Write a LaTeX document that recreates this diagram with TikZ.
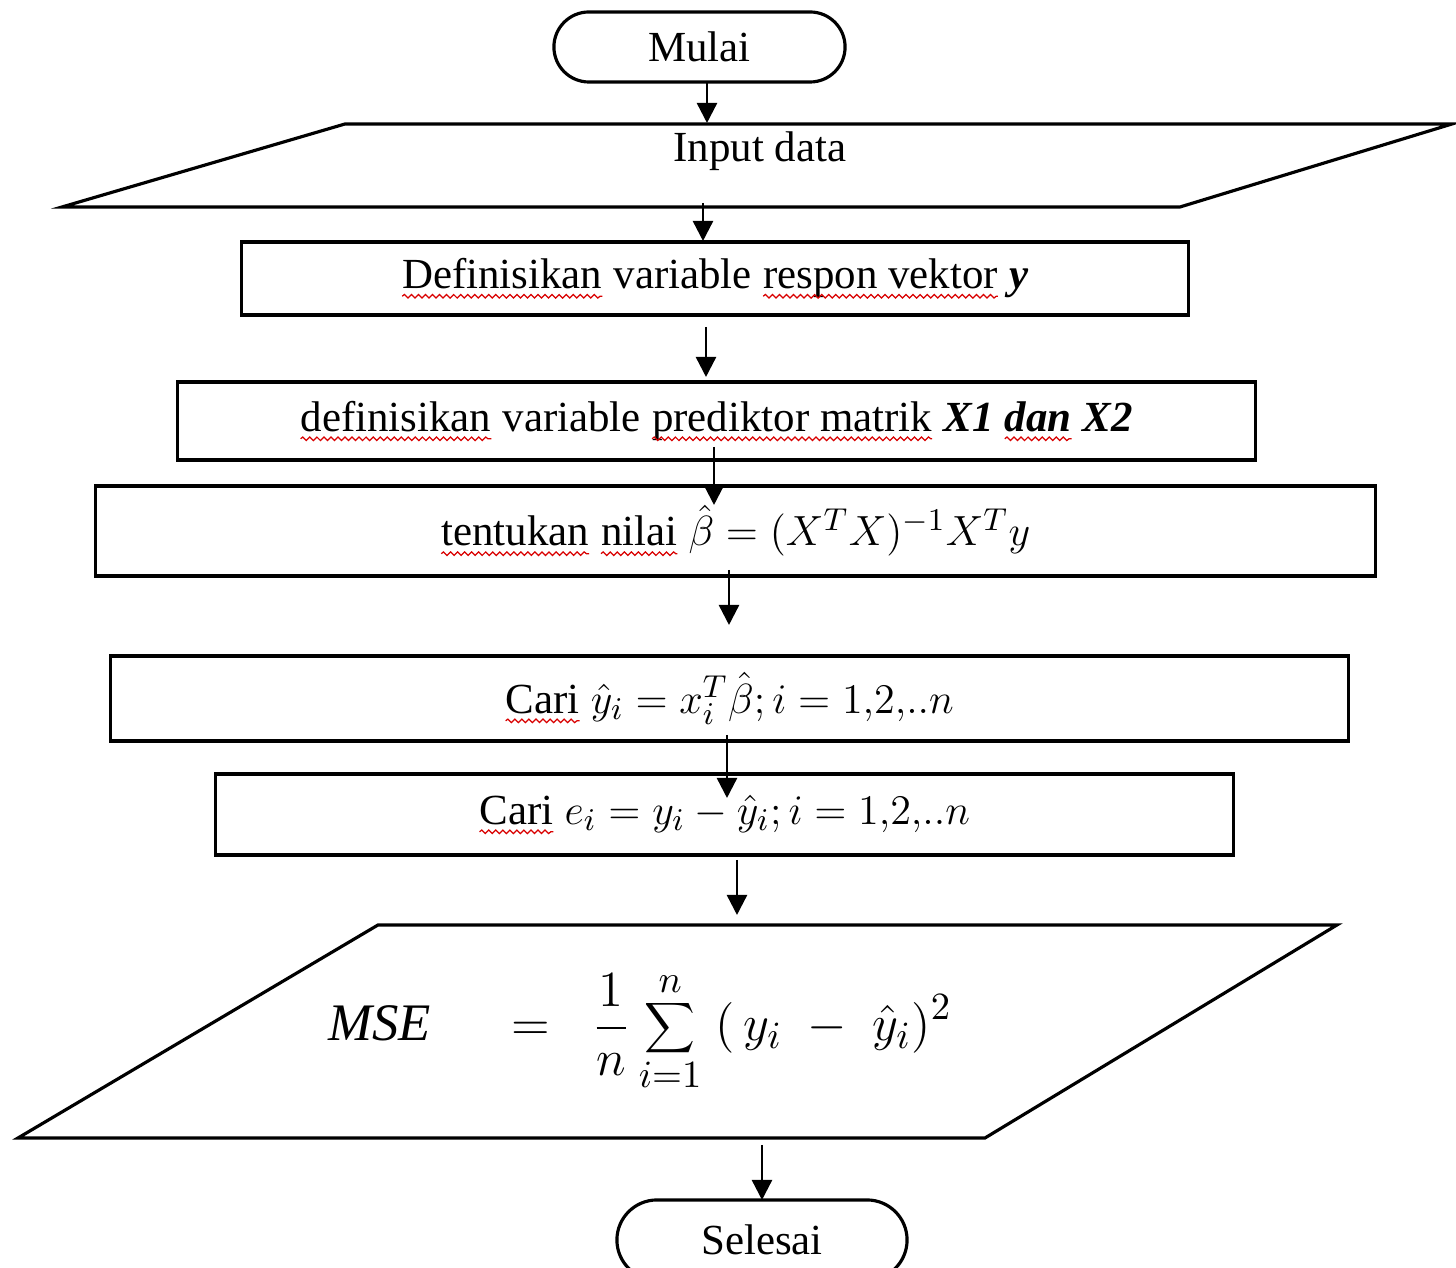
\documentclass[tikz,border=0pt]{standalone}
\usepackage{fontspec}
\setmainfont{Liberation Serif}
\usetikzlibrary{arrows.meta,shapes.misc,decorations.pathmorphing}
\newcommand\sq[1]{\tikz[x=1cm,y=1cm,baseline=(w.base)]{\node[rectangle,inner sep=0pt,outer sep=0pt,draw=none,minimum width=0pt,minimum height=0pt] (w) {#1};
  \draw[red!85!black,line width=0.35pt,decorate,decoration={snake,amplitude=0.5pt,segment length=2pt}] ([yshift=-2.2pt]w.base west) -- ([yshift=-2.2pt]w.base east);}}
\tikzset{
  shapeline/.style={draw=black,line width=0.9pt},
  procbox/.style={shapeline,rectangle,inner sep=0pt,font=\fontsize{12.2}{14}\selectfont},
  termbox/.style={shapeline,rounded rectangle,inner sep=0pt,font=\fontsize{12.2}{14}\selectfont},
  lbl/.style={inner sep=0pt,font=\fontsize{12.2}{14}\selectfont},
  arr/.style={line width=0.7pt,-{Triangle[length=0.2cm,width=0.2cm]}}
}
\begin{document}
\begin{tikzpicture}[x=0.01cm,y=-0.01cm]
\useasboundingbox (0,0) rectangle (1456,1268);
\fill[white] (0,0) rectangle (1456,1268);
\clip (0,0) rectangle (1456,1268);
% start
\node[termbox,minimum width=2.91cm,minimum height=0.70cm] (mulai) at (699.5,47) {Mulai};
% input
\draw[shapeline] (345,124) -- (1452,124) -- (1180,207) -- (62,207) -- cycle;
\node[lbl] (inp) at (760,151) {Input data};
% boxes
\node[procbox,minimum width=9.46cm,minimum height=0.73cm] (box1) at (715,278.5)
  {\sq{Definisikan} variable \sq{respon vektor} \textbf{\textit{y}}};
\node[procbox,minimum width=10.77cm,minimum height=0.78cm] (box2) at (716.5,421)
  {\sq{definisikan} variable \sq{prediktor matrik} \textbf{\textit{X1}} \textbf{\textit{\sq{dan}}} \textbf{\textit{X2}}};
\node[procbox,minimum width=12.79cm,minimum height=0.90cm] (box3) at (735.5,531)
  {\sq{tentukan} \sq{nilai} $\hat{\beta} = (X^{T}X)^{-1}X^{T}y$};
\node[procbox,minimum width=12.37cm,minimum height=0.85cm] (box4) at (729.5,698.5)
  {\sq{Cari} $\hat{y}_i = x_i^{T}\hat{\beta}; i = 1{,}2{,}..n$};
\node[procbox,minimum width=10.17cm,minimum height=0.81cm] (box5) at (724.5,814.5)
  {\sq{Cari} $e_i = y_i - \hat{y}_i; i = 1{,}2{,}..n$};
% MSE output
\draw[shapeline] (378,925) -- (1337,925) -- (985,1138) -- (18,1138) -- cycle;
\node[inner sep=0pt,font=\fontsize{15}{18}\selectfont] (mse) at (640,1032)
  {$\displaystyle \mathit{MSE}\quad\;=\;\;\frac{1}{n}\sum_{i=1}^{n}\;(\,y_i\;-\;\hat{y}_i)^2$};
% end
\node[termbox,minimum width=2.90cm,minimum height=0.80cm] (selesai) at (762,1240) {Selesai};
% connector ends
\coordinate (a1s) at (707,82);  \coordinate (a1e) at (707,123);
\coordinate (a2s) at (703,203); \coordinate (a2e) at (703,241);
\coordinate (a3s) at (706,327); \coordinate (a3e) at (706,377);
\coordinate (a4s) at (714,447); \coordinate (a4e) at (714,505);
\coordinate (a5s) at (729,570); \coordinate (a5e) at (729,625);
\coordinate (a6s) at (727,735); \coordinate (a6e) at (727,798);
\coordinate (a7s) at (737,860); \coordinate (a7e) at (737,915);
\coordinate (a8s) at (762,1145); \coordinate (a8e) at (762,1200);
\draw[arr] (a1s) -- (a1e);
\draw[arr] (a2s) -- (a2e);
\draw[arr] (a3s) -- (a3e);
\draw[arr] (a4s) -- (a4e);
\draw[arr] (a5s) -- (a5e);
\draw[arr] (a6s) -- (a6e);
\draw[arr] (a7s) -- (a7e);
\draw[arr] (a8s) -- (a8e);
\end{tikzpicture}
\end{document}
